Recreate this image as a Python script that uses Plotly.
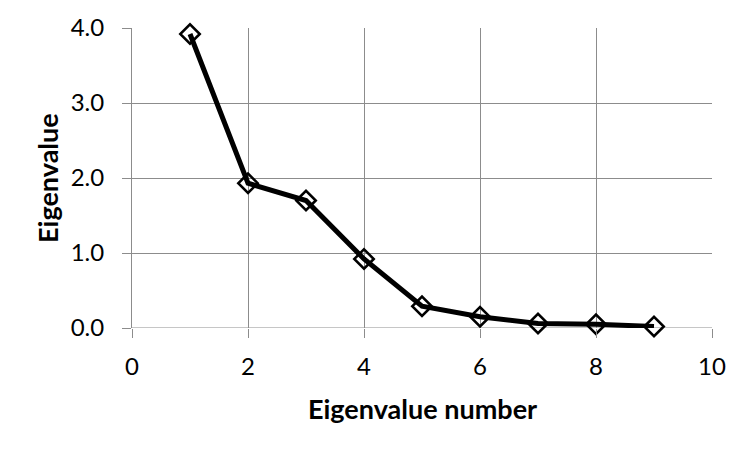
import plotly.graph_objects as go

eig_number = [1, 2, 3, 4, 5, 6, 7, 8, 9]
eigenvalue = [3.92, 1.93, 1.70, 0.92, 0.29, 0.15, 0.06, 0.05, 0.02]
x_ticks = [0, 2, 4, 6, 8, 10]
y_ticks = [0, 1, 2, 3, 4]
y_ticktext = ["0.0", "1.0", "2.0", "3.0", "4.0"]

fig = go.Figure()
fig.add_trace(go.Scatter(
    x=eig_number, y=eigenvalue, mode="lines+markers",
    line=dict(color="black", width=5),
    marker=dict(symbol="diamond-open", size=15, color="black", line=dict(width=2.5, color="black")),
    showlegend=False, cliponaxis=False,
))

font_family = "Lato, 'Open Sans', sans-serif"
grid = "#8c8c8c"
fig.update_layout(
    width=735, height=434,
    margin=dict(l=124, r=31, t=20, b=114),
    paper_bgcolor="white", plot_bgcolor="white",
    font=dict(family=font_family, size=24, color="black"),
    xaxis=dict(
        range=[0, 10], tickmode="array", tickvals=x_ticks,
        showgrid=True, gridcolor=grid, gridwidth=1,
        zeroline=False, showline=False, automargin=False,
        ticks="outside", ticklen=9, tickcolor=grid, tickwidth=1,
        ticklabelstandoff=8,
        tickfont=dict(size=24),
    ),
    yaxis=dict(
        range=[0, 4], tickmode="array", tickvals=y_ticks, ticktext=y_ticktext,
        showgrid=True, gridcolor=grid, gridwidth=1,
        zeroline=False, showline=True, linecolor=grid, linewidth=1, automargin=False,
        ticks="outside", ticklen=9, tickcolor=grid, tickwidth=1,
        ticklabelstandoff=13,
        tickfont=dict(size=24),
    ),
    annotations=[
        dict(text="<b>Eigenvalue number</b>", xref="paper", yref="paper",
             x=0.5, y=-0.267, xanchor="center", yanchor="middle", showarrow=False,
             font=dict(size=27, family=font_family, color="black")),
        dict(text="<b>Eigenvalue</b>", xref="paper", yref="paper",
             x=-0.1466, y=0.5, xanchor="center", yanchor="middle", showarrow=False,
             textangle=-90, font=dict(size=27, family=font_family, color="black")),
    ],
)
fig.add_shape(type="line", xref="paper", yref="y", x0=0, x1=1, y0=0, y1=0,
              line=dict(color=grid, width=1), layer="below")

fig.write_html("out.html")
